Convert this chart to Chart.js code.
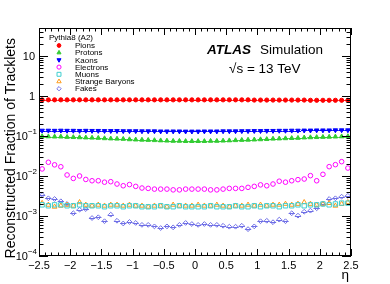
<!DOCTYPE html>
<html><head><meta charset="utf-8">
<script src="https://cdn.jsdelivr.net/npm/chart.js@4/dist/chart.umd.min.js"></script>
<style>html,body{margin:0;padding:0;background:#fff;}#wrap{width:390px;height:284px;}</style>
</head><body><div id="wrap"><canvas id="c" width="390" height="284"></canvas></div>
<script>
// ---- data ----
const eta = [-2.45,-2.35,-2.25,-2.15,-2.05,-1.95,-1.85,-1.75,-1.65,-1.55,-1.45,-1.35,-1.25,-1.15,-1.05,-0.95,-0.85,-0.75,-0.65,-0.55,-0.45,-0.35,-0.25,-0.15,-0.05,0.05,0.15,0.25,0.35,0.45,0.55,0.65,0.75,0.85,0.95,1.05,1.15,1.25,1.35,1.45,1.55,1.65,1.75,1.85,1.95,2.05,2.15,2.25,2.35,2.45];
const binHalfWidth = 0.05;
const pions = [0.80,0.80,0.80,0.80,0.80,0.80,0.80,0.80,0.80,0.80,0.80,0.80,0.80,0.80,0.80,0.80,0.80,0.80,0.80,0.80,0.80,0.80,0.80,0.80,0.80,0.80,0.80,0.80,0.80,0.80,0.80,0.80,0.80,0.80,0.79,0.79,0.79,0.79,0.79,0.79,0.79,0.79,0.79,0.78,0.78,0.78,0.78,0.78,0.78,0.78];
const protons = [0.098,0.097,0.096,0.096,0.094,0.093,0.092,0.091,0.090,0.089,0.087,0.086,0.085,0.084,0.082,0.081,0.080,0.079,0.078,0.077,0.076,0.075,0.075,0.074,0.074,0.074,0.074,0.075,0.075,0.076,0.077,0.078,0.079,0.080,0.081,0.082,0.083,0.085,0.086,0.087,0.088,0.089,0.091,0.092,0.093,0.094,0.095,0.096,0.097,0.098];
const kaons = [0.137,0.137,0.136,0.137,0.136,0.136,0.135,0.136,0.135,0.135,0.134,0.134,0.134,0.133,0.133,0.133,0.132,0.132,0.132,0.131,0.131,0.131,0.131,0.130,0.130,0.130,0.131,0.131,0.131,0.132,0.132,0.132,0.133,0.133,0.134,0.134,0.135,0.135,0.136,0.136,0.137,0.137,0.138,0.138,0.139,0.139,0.139,0.140,0.140,0.140];
const electrons = [0.015,0.022,0.019,0.017,0.0106,0.0087,0.0100,0.0082,0.0076,0.0076,0.0070,0.0072,0.0063,0.0057,0.0061,0.0055,0.0050,0.0049,0.0047,0.0047,0.0047,0.0045,0.0045,0.0047,0.0047,0.0047,0.0047,0.0045,0.0045,0.0047,0.0049,0.0049,0.0049,0.0052,0.0055,0.0060,0.0057,0.0063,0.0074,0.0070,0.0076,0.0081,0.0084,0.0102,0.0076,0.0110,0.0171,0.0192,0.0228,0.0158];
const muons = [0.0019,0.0018,0.0019,0.0019,0.0018,0.0018,0.0019,0.0018,0.0018,0.0018,0.0017,0.0018,0.0018,0.0017,0.0018,0.0018,0.0017,0.0017,0.0017,0.0018,0.0017,0.0017,0.0018,0.0017,0.0017,0.0017,0.0017,0.0018,0.0017,0.0017,0.0017,0.0018,0.0017,0.0017,0.0018,0.0017,0.0018,0.0018,0.0017,0.0018,0.0018,0.0019,0.0018,0.0019,0.0019,0.0020,0.0019,0.0020,0.0021,0.0021];
const strangeBaryons = [0.0021,0.0019,0.0017,0.0018,0.0019,0.0018,0.0022,0.0019,0.0018,0.0019,0.0018,0.0019,0.0019,0.0018,0.0019,0.0018,0.0018,0.0017,0.0018,0.0018,0.0017,0.0019,0.0018,0.0018,0.0018,0.0019,0.0018,0.0018,0.0019,0.0018,0.0017,0.0018,0.0018,0.0019,0.0018,0.0019,0.0018,0.0019,0.0019,0.0020,0.0019,0.0020,0.0022,0.0020,0.0019,0.0020,0.0021,0.0018,0.0020,0.0022];
const fakes = [0.00335,0.00277,0.00266,0.00233,0.0020,0.00117,0.00144,0.00149,0.00089,0.00093,0.00074,0.00108,0.00076,0.00065,0.00071,0.00067,0.0006,0.0006,0.00055,0.0005,0.00055,0.00052,0.0006,0.00067,0.00063,0.0006,0.00063,0.0006,0.0006,0.00057,0.00054,0.00054,0.00057,0.00047,0.00055,0.00074,0.00076,0.0007,0.00081,0.00074,0.00117,0.00102,0.00128,0.00136,0.00156,0.0020,0.00266,0.00277,0.00304,0.0032];

const xTicks = [-2.5,-2,-1.5,-1,-0.5,0,0.5,1,1.5,2,2.5];
const xTickLabels = ['\u22122.5','\u22122','\u22121.5','\u22121','\u22120.5','0','0.5','1','1.5','2','2.5'];
const yDecades = [1e-4,1e-3,1e-2,1e-1,1,10];
const yTickLabels = [['10','\u22124'],['10','\u22123'],['10','\u22122'],['10','\u22121'],['1',''],['10','']];
const seriesNames = ['Pions','Protons','Kaons','Electrons','Muons','Strange Baryons','Fakes'];
const legendHeader = 'Pythia8 (A2)';
const yTitle = 'Reconstructed Fraction of Tracklets';
const xTitle = '\u03B7';
const yMin = 1e-4, yMax = 50;

const FONT = '"Liberation Sans", Arial, Helvetica, sans-serif';

function pts(arr){ return arr.map((v,i)=>({x:eta[i], y:v})); }

const styles = [
  {c:'#ff0000', ps:'circle', r:2.1, fill:true, rot:0, bar:true},
  {c:'#33cc33', ps:'triangle', r:2.6, fill:true, rot:0, bar:true},
  {c:'#0000ff', ps:'triangle', r:2.6, fill:true, rot:180, bar:true},
  {c:'#ff00ff', ps:'circle', r:2.3, fill:false, rot:0, bar:false},
  {c:'#3fcfcf', ps:'rect', r:3.1, fill:false, rot:0, bar:false},
  {c:'#ff9b1a', ps:'triangle', r:2.8, fill:false, rot:0, bar:false},
  {c:'#6e6ee6', ps:'rectRot', r:2.4, fill:false, rot:0, bar:true}
];
const series = [pions, protons, kaons, electrons, muons, strangeBaryons, fakes];

const datasets = series.map((s,i)=>({
  label: seriesNames[i],
  data: pts(s),
  showLine:false,
  pointStyle: styles[i].ps,
  pointRadius: styles[i].r,
  pointRotation: styles[i].rot,
  pointBorderWidth: 1,
  borderColor: styles[i].c,
  backgroundColor: styles[i].fill ? styles[i].c : 'rgba(0,0,0,0)',
  pointBackgroundColor: styles[i].fill ? styles[i].c : 'rgba(0,0,0,0)',
  pointBorderColor: styles[i].c,
  xBar: styles[i].bar
}));

const errBars = {
  id:'errBars',
  beforeDatasetsDraw(chart){
    const {ctx, scales:{x,y}} = chart;
    ctx.save();
    ctx.lineWidth = 1;
    chart.data.datasets.forEach(ds=>{
      if(!ds.xBar) return;
      ctx.strokeStyle = ds.borderColor;
      ctx.beginPath();
      ds.data.forEach(p=>{
        const py = Math.round(y.getPixelForValue(p.y))+0.5;
        ctx.moveTo(x.getPixelForValue(p.x-binHalfWidth), py);
        ctx.lineTo(x.getPixelForValue(p.x+binHalfWidth), py);
      });
      ctx.stroke();
    });
    ctx.restore();
  }
};

const rootAxes = {
  id:'rootAxes',
  afterDatasetsDraw(chart){
    const {ctx, chartArea:a, scales:{x,y}} = chart;
    ctx.save();
    ctx.strokeStyle = '#000'; ctx.lineWidth = 1;
    ctx.strokeRect(a.left+0.5, a.top+0.5, a.right-a.left-1, a.bottom-a.top-1);
    ctx.beginPath();
    for(let i=0;i<xTicks.length;i++){
      const v = xTicks[i];
      const px = Math.round(x.getPixelForValue(v))+0.5;
      ctx.moveTo(px, a.bottom); ctx.lineTo(px, a.bottom-7);
      ctx.moveTo(px, a.top); ctx.lineTo(px, a.top+7);
      if(i<xTicks.length-1){
        const step = (xTicks[i+1]-v)/5;
        for(let k=1;k<5;k++){
          const mx = Math.round(x.getPixelForValue(v+k*step))+0.5;
          ctx.moveTo(mx, a.bottom); ctx.lineTo(mx, a.bottom-3.5);
          ctx.moveTo(mx, a.top); ctx.lineTo(mx, a.top+3.5);
        }
      }
    }
    yDecades.forEach(d=>{
      const py = Math.round(y.getPixelForValue(d))+0.5;
      ctx.moveTo(a.left, py); ctx.lineTo(a.left+9, py);
      ctx.moveTo(a.right, py); ctx.lineTo(a.right-9, py);
      for(let k=2;k<=9;k++){
        const v = d*k;
        if(v>yMax) break;
        const my = Math.round(y.getPixelForValue(v))+0.5;
        ctx.moveTo(a.left, my); ctx.lineTo(a.left+4.5, my);
        ctx.moveTo(a.right, my); ctx.lineTo(a.right-4.5, my);
      }
    });
    ctx.stroke();

    ctx.fillStyle = '#000';
    ctx.font = '11px '+FONT;
    ctx.textAlign = 'center'; ctx.textBaseline = 'alphabetic';
    xTicks.forEach((v,i)=>{
      ctx.fillText(xTickLabels[i], x.getPixelForValue(v), a.bottom+13);
    });
    yDecades.forEach((d,i)=>{
      const py = y.getPixelForValue(d);
      const [base, exp] = yTickLabels[i];
      ctx.font = '11px '+FONT;
      ctx.textBaseline = 'middle';
      if(!exp){
        ctx.textAlign = 'right';
        ctx.fillText(base, a.left-4, py+1);
      } else {
        ctx.font = '8px '+FONT;
        const ew = ctx.measureText(exp).width;
        ctx.textAlign = 'left';
        ctx.fillText(exp, a.left-2-ew, py-4);
        ctx.font = '11px '+FONT;
        ctx.textAlign = 'right';
        ctx.fillText(base, a.left-2-ew, py+1);
      }
    });
    ctx.font = '13.5px '+FONT;
    ctx.textAlign = 'right'; ctx.textBaseline = 'alphabetic';
    ctx.fillText(xTitle, a.right-2, a.bottom+23);
    ctx.save();
    ctx.font = '14px '+FONT;
    ctx.translate(14.5, a.top+10);
    ctx.rotate(-Math.PI/2);
    ctx.textAlign = 'right';
    ctx.fillText(yTitle, 0, 0);
    ctx.restore();

    ctx.textAlign = 'left'; ctx.textBaseline = 'alphabetic';
    ctx.font = 'italic bold 13.5px '+FONT;
    ctx.fillText('ATLAS', 207, 54);
    ctx.font = '13.5px '+FONT;
    ctx.fillText('Simulation', 260, 54);
    ctx.fillText('\u221As = 13 TeV', 229, 73);

    ctx.font = '8px '+FONT;
    ctx.textBaseline = 'middle';
    ctx.fillText(legendHeader, 49, 38);
    chart.data.datasets.forEach((ds,i)=>{
      const cy = 45.5 + i*7.2;
      const cx = 59;
      ctx.save();
      ctx.strokeStyle = ds.borderColor;
      ctx.fillStyle = ds.pointBackgroundColor;
      ctx.lineWidth = 1;
      Chart.helpers.drawPoint(ctx, {pointStyle: ds.pointStyle, radius: ds.pointRadius*0.9, rotation: ds.pointRotation, borderWidth: 1}, cx, cy);
      ctx.restore();
      ctx.fillStyle = '#000';
      ctx.fillText(ds.label, 75, cy+0.5);
    });
    ctx.restore();
  }
};

new Chart(document.getElementById('c'), {
  type:'scatter',
  data:{datasets},
  options:{
    responsive:false, animation:false, devicePixelRatio:1,
    layout:{padding:{left:39, right:39, top:28, bottom:28}},
    plugins:{legend:{display:false}, tooltip:{enabled:false}},
    scales:{
      x:{type:'linear', min:-2.5, max:2.5, display:false},
      y:{type:'logarithmic', min:yMin, max:yMax, display:false}
    }
  },
  plugins:[errBars, rootAxes]
});
</script>
</body></html>
